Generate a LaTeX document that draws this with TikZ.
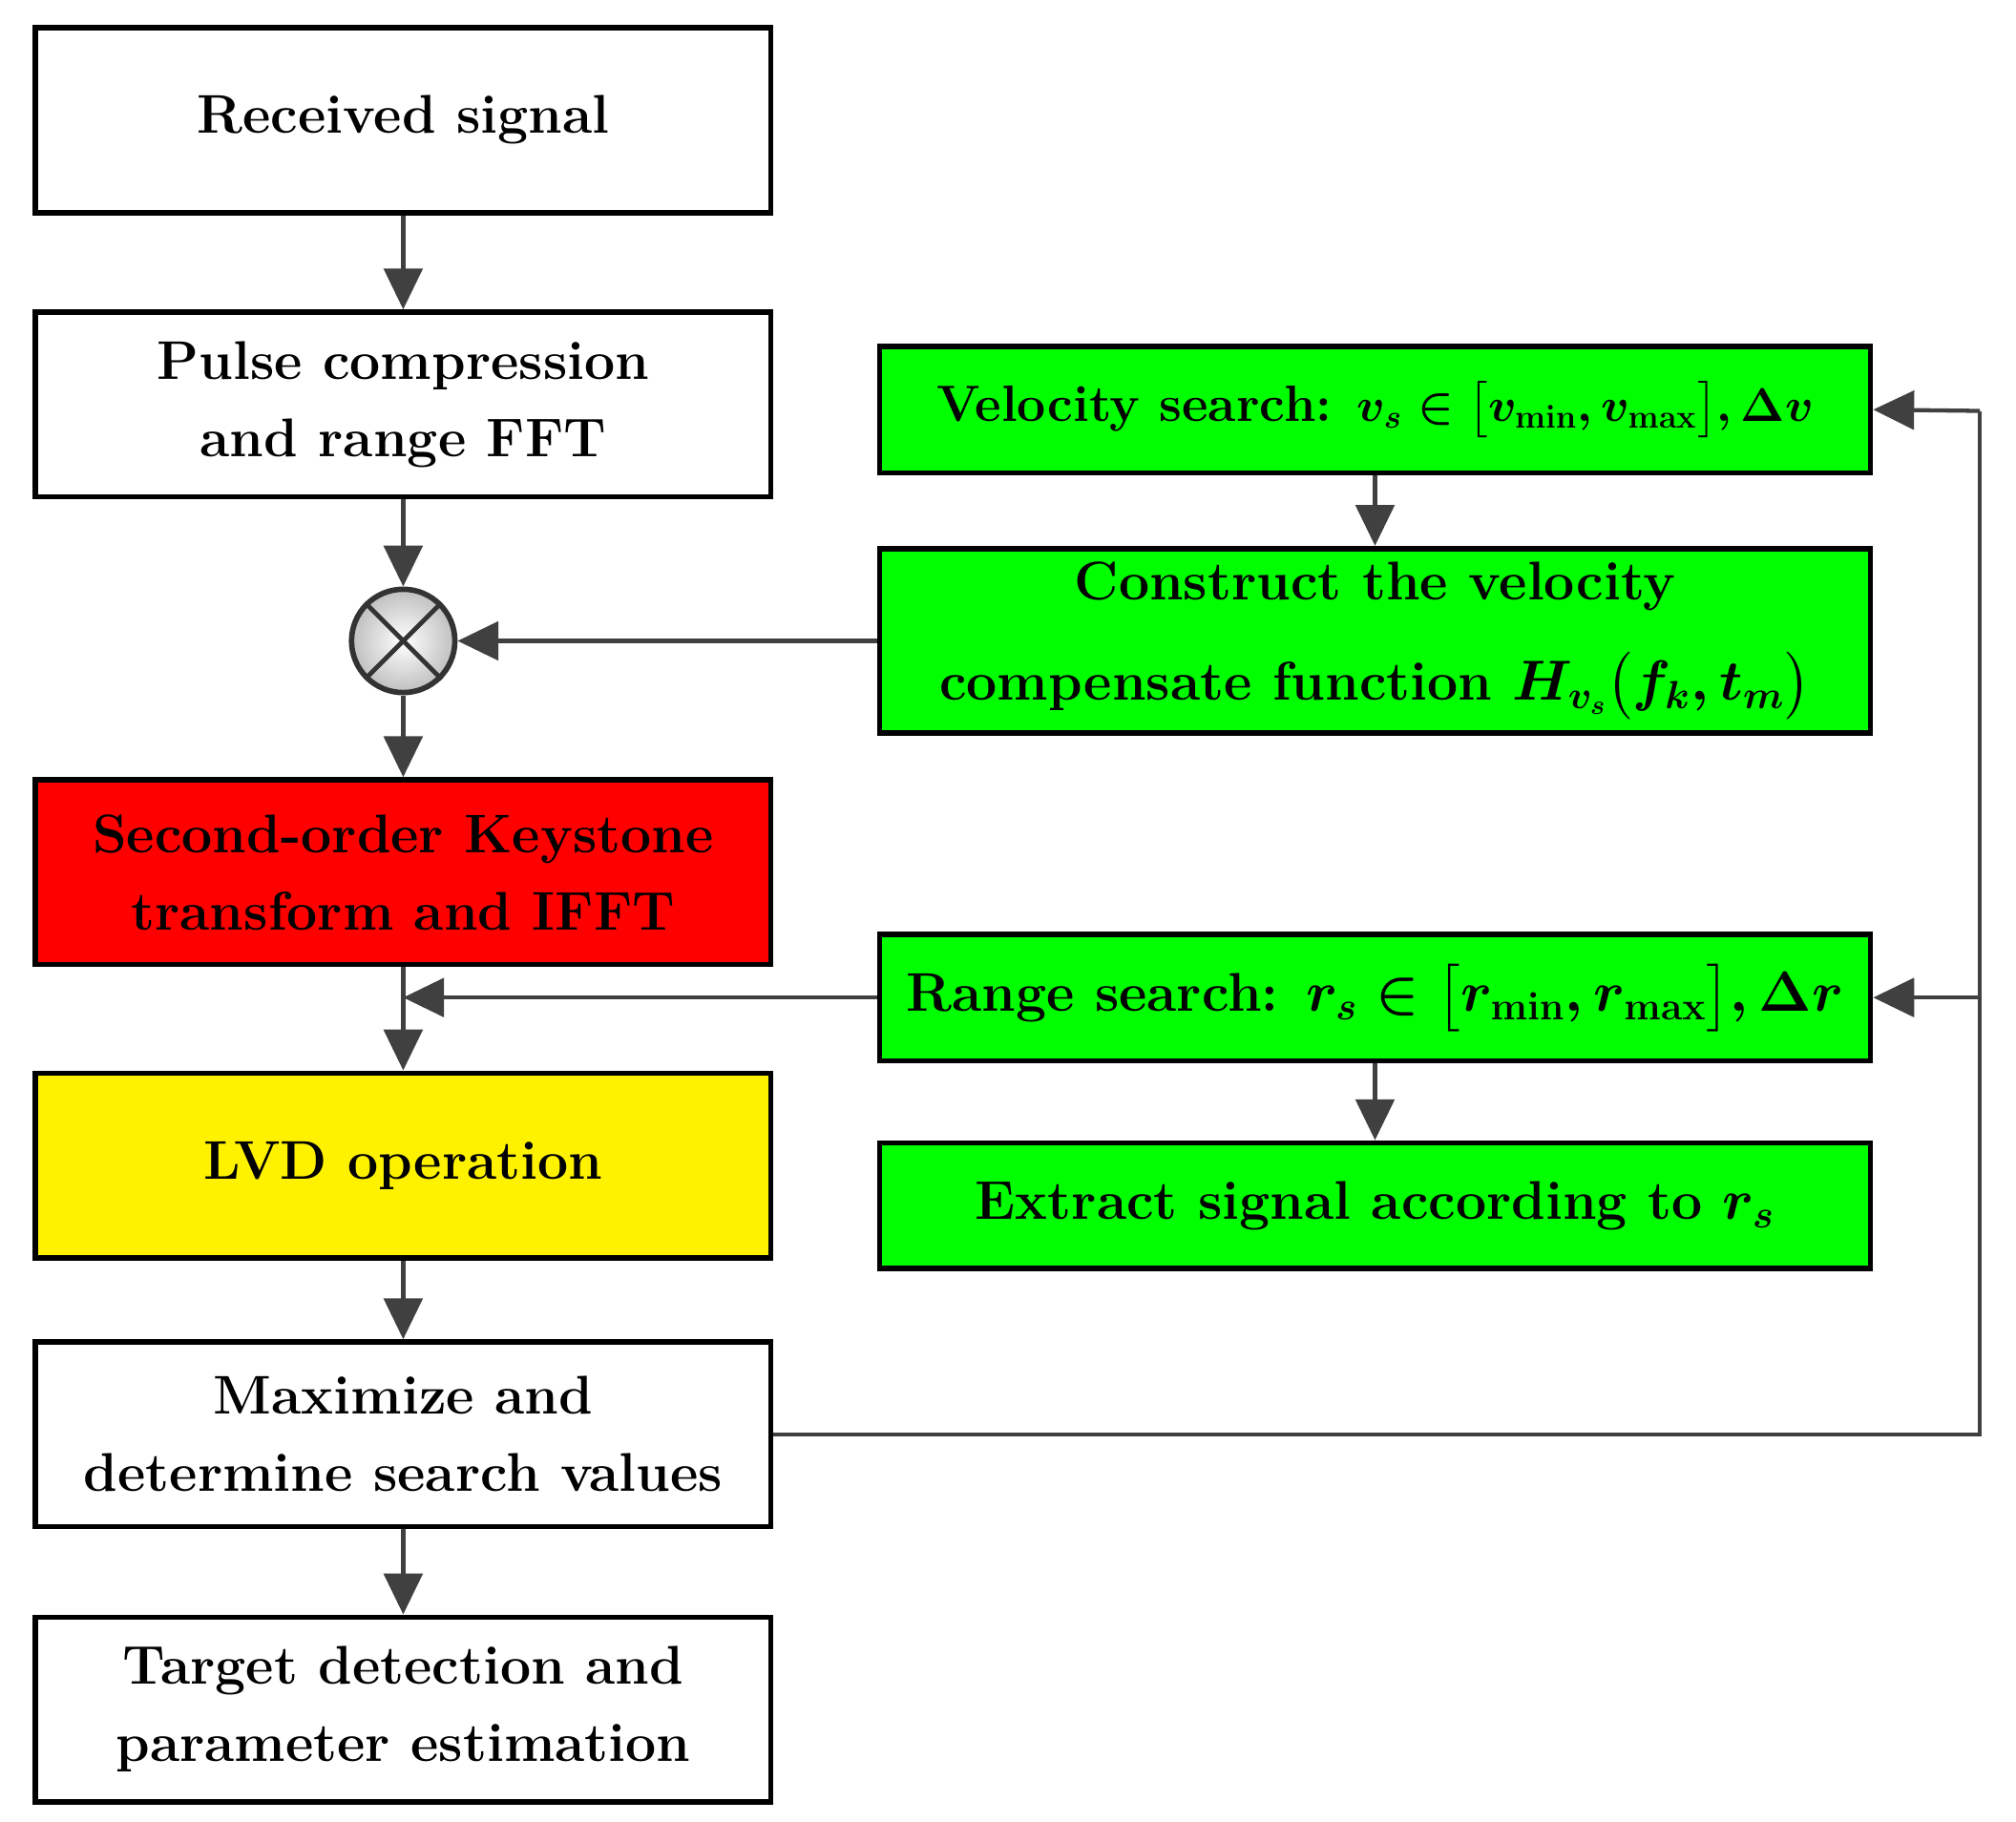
\documentclass[tikz,border=0pt]{standalone}
\usepackage{amsmath}
\usetikzlibrary{arrows.meta,calc}
\begin{document}
\begin{tikzpicture}[x=0.02cm,y=-0.02cm,
  box/.style={draw=black,line width=2.4pt,align=center,inner sep=0pt,
    font=\fontsize{24}{34}\selectfont\bfseries\boldmath},
  lbox/.style={box,minimum width=11.38cm,minimum height=2.86cm},
  rbox/.style={box,minimum width=15.34cm,fill=green},
  arr/.style={draw=black!75,line width=1.8pt,-{Triangle[length=18pt,width=17pt]}},
  ln/.style={draw=black!75,line width=1.8pt}]
\useasboundingbox (0,0) rectangle (1560,1410);
\node[lbox] (rec) at (312,93) {Received signal};
\node[lbox] (pul) at (312,313) {Pulse compression\\and range FFT};
\node[draw=black!80,line width=2.4pt,circle,minimum size=1.6cm,inner sep=0pt,
  inner color=white,outer color=black!25] (mul) at (312,496) {};
\draw[black!80,line width=2pt] (mul.north west)--(mul.south east) (mul.north east)--(mul.south west);
\node[lbox,fill=red] (key) at (312,675) {Second-order Keystone\\transform and IFFT};
\node[lbox,fill=yellow] (lvd) at (312,902) {LVD operation};
\node[lbox] (max) at (312,1110) {Maximize and\\determine search values};
\node[lbox] (tar) at (312,1323) {Target detection and\\parameter estimation};
\node[rbox,minimum height=1.96cm,font=\fontsize{22.5}{30}\selectfont\bfseries\boldmath] (vel) at (1064,317) {Velocity search: $v_s\in\bigl[v_{\min},v_{\max}\bigr],\Delta v$};
\node[rbox,minimum height=2.86cm] (con) at (1064,496) {Construct the velocity\\[10pt]compensate function $H_{v_s}\bigl(f_k,t_m\bigr)$};
\node[rbox,minimum height=1.96cm] (ran) at (1064,772) {Range search: $r_s\in\bigl[r_{\min},r_{\max}\bigr],\Delta r$};
\node[rbox,minimum height=1.94cm] (ext) at (1064,933) {Extract signal according to $r_s$};
\draw[arr] (rec)--(pul);
\draw[arr] (pul)--(mul);
\draw[arr] (mul)--(key);
\draw[arr] (key)--(lvd);
\draw[arr] (lvd)--(max);
\draw[arr] (max)--(tar);
\draw[arr] (vel)--(con);
\draw[arr] (ran)--(ext);
\draw[arr] (con)--(mul);
\coordinate (j) at (312,772);
\draw[arr] (ran.west)--(j);
\coordinate (c1) at (1532,1110);
\coordinate (c2) at (1532,318);
\coordinate (c3) at (1532,772);
\draw[ln] (max.east)--(c1)--(c2);
\draw[arr] (c2)--(vel.east);
\draw[arr] (c3)--(ran.east);
\end{tikzpicture}
\end{document}
